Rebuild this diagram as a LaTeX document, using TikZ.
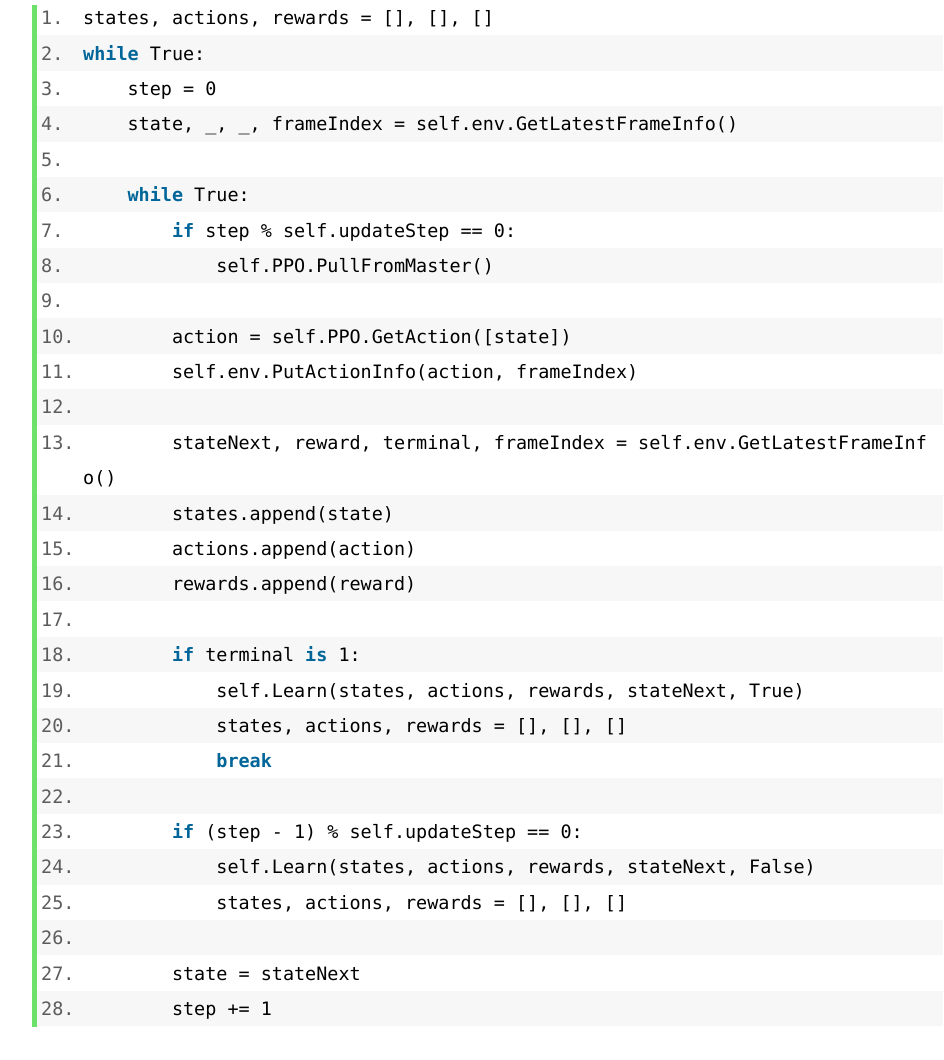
\documentclass[tikz,border=0pt]{standalone}
\usepackage{fontspec}
\newfontfamily\codefont{DejaVu Sans Mono}
\definecolor{kwblue}{HTML}{006699}
\definecolor{numgray}{HTML}{5C5C5C}
\definecolor{rowshade}{HTML}{F7F7F7}
\definecolor{barg}{HTML}{6CE26C}
\newcommand\kw[1]{\textcolor{kwblue}{\bfseries #1}}
\newcommand\us{\textunderscore}
% \cl{name}{visual row}{indent chars}{number}{code}
\newcommand\cl[5]{%
  \node[numtxt] (num#1) at (41,{#2*35.38+24.8}) {#4.};
  \node[codetxt] (code#1) at ({83+#3*11.1},{#2*35.38+24.8}) {#5};
}
\newcommand\shaderow[2]{%
  \fill[rowshade] (37,{#2*35.38}) rectangle (943,{(#2+1)*35.38}) coordinate (sh#1);
}
\begin{document}
\begin{tikzpicture}[x=1pt,y=-1pt,
  numtxt/.style={anchor=base west,inner sep=0pt,text=numgray,font=\codefont\fontsize{18.44}{20}\selectfont},
  codetxt/.style={anchor=base west,inner sep=0pt,text=black,font=\codefont\fontsize{18.44}{20}\selectfont}]
\fill[white] (0,0) rectangle (943,1060);
\useasboundingbox (0,0) rectangle (943,1060);
% shaded rows
\shaderow{2}{1}
\shaderow{4}{3}
\shaderow{6}{5}
\shaderow{8}{7}
\shaderow{10}{9}
\shaderow{12}{11}
\shaderow{14}{14}
\shaderow{16}{16}
\shaderow{18}{18}
\shaderow{20}{20}
\shaderow{22}{22}
\shaderow{24}{24}
\shaderow{26}{26}
\shaderow{28}{28}
% green bar
\fill[barg] (32,5) rectangle (37,1027);
% code lines
\cl{1}{0}{0}{1}{states, actions, rewards = [], [], []}
\cl{2}{1}{0}{2}{\kw{while} True:}
\cl{3}{2}{4}{3}{step = 0}
\cl{4}{3}{4}{4}{state, \us, \us, frameIndex = self.env.GetLatestFrameInfo()}
\node[numtxt] (num5) at (41,{4*35.38+24.8}) {5.};
\cl{6}{5}{4}{6}{\kw{while} True:}
\cl{7}{6}{8}{7}{\kw{if} step \% self.updateStep == 0:}
\cl{8}{7}{12}{8}{self.PPO.PullFromMaster()}
\node[numtxt] (num9) at (41,{8*35.38+24.8}) {9.};
\cl{10}{9}{8}{10}{action = self.PPO.GetAction([state])}
\cl{11}{10}{8}{11}{self.env.PutActionInfo(action, frameIndex)}
\node[numtxt] (num12) at (41,{11*35.38+24.8}) {12.};
\cl{13}{12}{8}{13}{stateNext, reward, terminal, frameIndex = self.env.GetLatestFrameInf}
\node[codetxt] (code13b) at (83,{13*35.38+24.8}) {o()};
\cl{14}{14}{8}{14}{states.append(state)}
\cl{15}{15}{8}{15}{actions.append(action)}
\cl{16}{16}{8}{16}{rewards.append(reward)}
\node[numtxt] (num17) at (41,{17*35.38+24.8}) {17.};
\cl{18}{18}{8}{18}{\kw{if} terminal \kw{is} 1:}
\cl{19}{19}{12}{19}{self.Learn(states, actions, rewards, stateNext, True)}
\cl{20}{20}{12}{20}{states, actions, rewards = [], [], []}
\cl{21}{21}{12}{21}{\kw{break}}
\node[numtxt] (num22) at (41,{22*35.38+24.8}) {22.};
\cl{23}{23}{8}{23}{\kw{if} (step - 1) \% self.updateStep == 0:}
\cl{24}{24}{12}{24}{self.Learn(states, actions, rewards, stateNext, False)}
\cl{25}{25}{12}{25}{states, actions, rewards = [], [], []}
\node[numtxt] (num26) at (41,{26*35.38+24.8}) {26.};
\cl{27}{27}{8}{27}{state = stateNext}
\cl{28}{28}{8}{28}{step += 1}
\end{tikzpicture}
\end{document}
